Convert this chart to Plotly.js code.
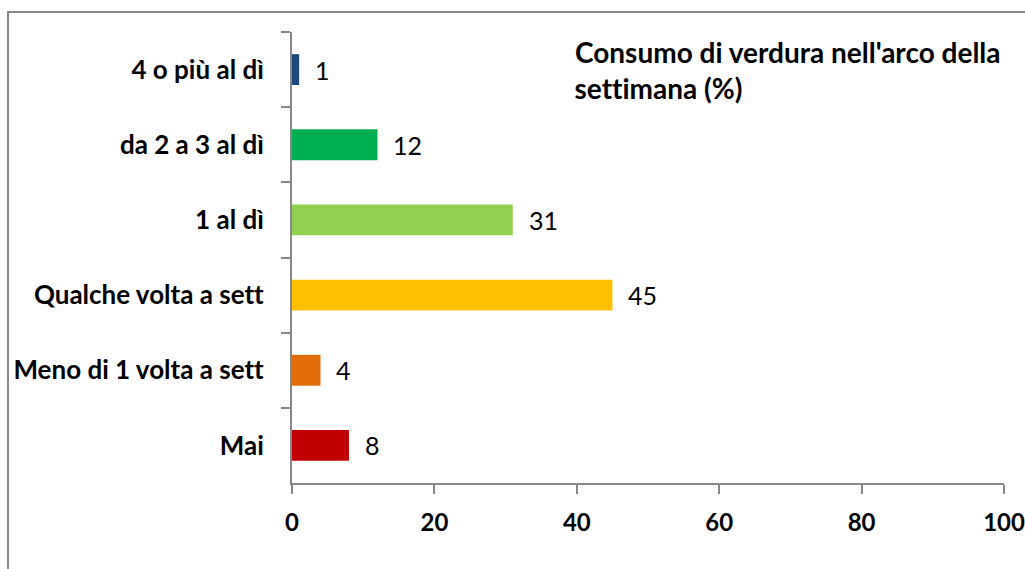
<!DOCTYPE html>
<html>
<head>
<meta charset="utf-8">
<script src="https://cdn.plot.ly/plotly-3.0.1.min.js"></script>
<style>
  html, body { margin: 0; padding: 0; background: #fff; }
  #chart { width: 1025px; height: 569px; }
  #chart text { font-variant-ligatures: none; font-feature-settings: "liga" 0, "clig" 0; }
</style>
</head>
<body>
<div id="chart"></div>
<script>
// Data (top to bottom as in the reference)
const categories = ["4 o più al dì", "da 2 a 3 al dì", "1 al dì", "Qualche volta a sett", "Meno di 1 volta a sett", "Mai"];
const values = [1, 12, 31, 45, 4, 8];
const barColors = ["#1F497D", "#00B050", "#92D050", "#FFC000", "#E36C09", "#C00000"];
const titleLines = ["Consumo di verdura nell'arco della", "settimana (%)"];
const xTicks = [0, 20, 40, 60, 80, 100];

const FONT = "Lato, 'Open Sans', sans-serif";
const AXIS = "#888888";

const bar = {
  type: "bar",
  orientation: "h",
  y: categories,
  x: values,
  marker: { color: barColors, line: { width: 0 } },
  hoverinfo: "x+y",
  showlegend: false
};

const labelAnnotations = categories.map((c, i) => ({
  x: values[i], y: c, xref: "x", yref: "y",
  text: String(values[i]),
  showarrow: false, xanchor: "left", yanchor: "middle",
  xshift: 14,
  font: { family: FONT, size: 25, color: "#000" }
}));

const titleAnnotations = titleLines.map((t, i) => ({
  x: 573, y: 52 + i * 36, xref: "paper", yref: "paper",
  text: t, showarrow: false, xanchor: "left", yanchor: "middle",
  font: { family: FONT, size: 28, color: "#000", weight: "bold" }
}));

// convert pixel positions for title into paper coords
const L = 292, R = 21, T = 32, B = 86, W = 1025, H = 569;
const pw = W - L - R, ph = H - T - B;
titleAnnotations.forEach(a => {
  a.x = (a.x - L) / pw;
  a.y = (H - B - a.y) / ph;
});

const layout = {
  width: W, height: H,
  margin: { l: L, r: R, t: T, b: B, pad: 0 },
  paper_bgcolor: "#fff",
  plot_bgcolor: "#fff",
  bargap: 0.59,
  xaxis: {
    range: [0, 100],
    tickmode: "array", tickvals: xTicks, ticktext: xTicks.map(String),
    showgrid: false, zeroline: false,
    showline: true, linecolor: AXIS, linewidth: 2,
    ticks: "outside", ticklen: 9, tickwidth: 2, tickcolor: AXIS,
    tickfont: { family: FONT, size: 24, color: "#000", weight: "bold" },
    ticklabelstandoff: 8,
    fixedrange: true
  },
  yaxis: {
    type: "category",
    autorange: "reversed",
    showgrid: false, zeroline: false,
    showline: true, linecolor: AXIS, linewidth: 2,
    ticks: "outside", ticklen: 9, tickwidth: 2, tickcolor: AXIS,
    tickson: "boundaries",
    tickfont: { family: FONT, size: 26, color: "#000", weight: "bold" },
    ticklabelstandoff: 21,
    fixedrange: true
  },
  shapes: [{
    type: "rect", xref: "paper", yref: "paper",
    x0: (8 - L) / pw, x1: (W + 10 - L) / pw,
    y0: (H - B - (H + 10)) / ph, y1: (H - B - 12) / ph,
    line: { color: AXIS, width: 2 }, fillcolor: "rgba(0,0,0,0)", layer: "below"
  }],
  annotations: labelAnnotations.concat(titleAnnotations)
};

Plotly.newPlot("chart", [bar], layout, { displayModeBar: false, staticPlot: true });
</script>
</body>
</html>
